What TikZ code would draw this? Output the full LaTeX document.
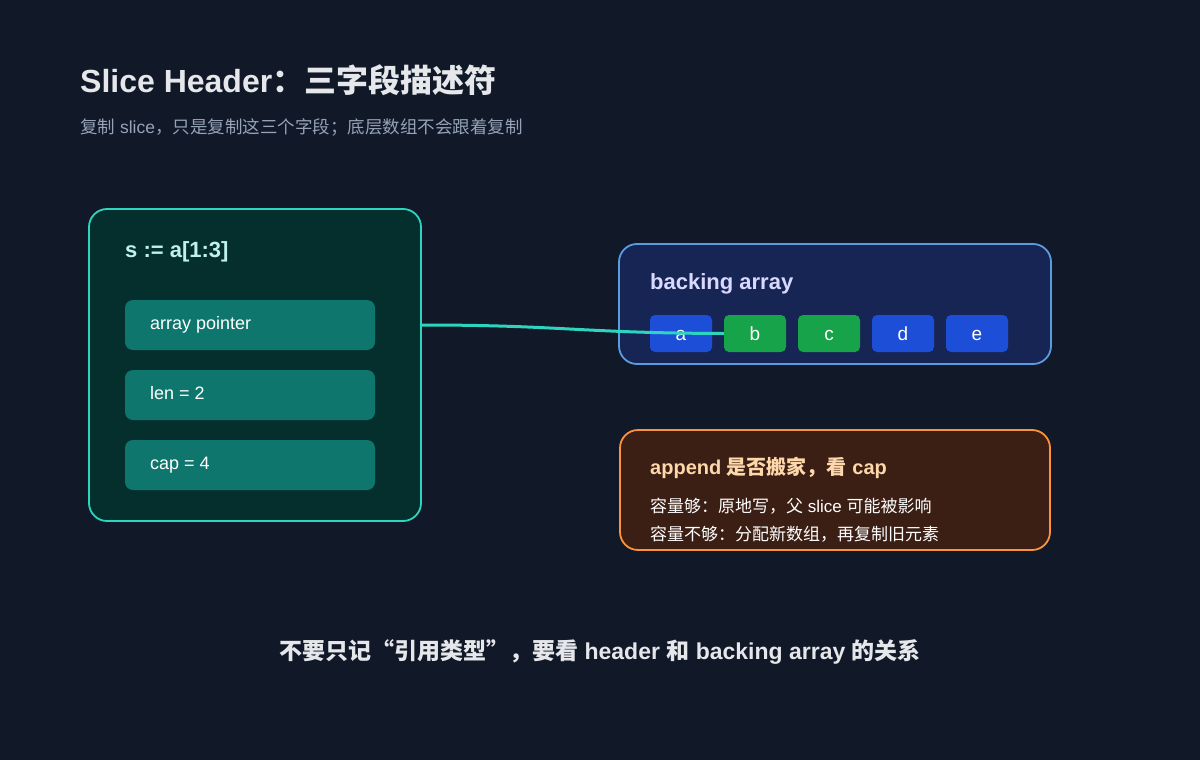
\documentclass[tikz,border=0pt]{standalone}
\usepackage{fontspec}
\setmainfont{Liberation Sans}
\newfontfamily\cjk{Noto Sans CJK SC}
\newcommand{\zh}[1]{{\cjk #1}}
\definecolor{bg}{HTML}{111827}
\definecolor{tealfill}{HTML}{042F2C}
\definecolor{tealline}{HTML}{2DD4BF}
\definecolor{tealbox}{HTML}{0F766E}
\definecolor{navyfill}{HTML}{172554}
\definecolor{navyline}{HTML}{5B9BE0}
\definecolor{cellblue}{HTML}{1D4ED8}
\definecolor{cellgreen}{HTML}{16A34A}
\definecolor{orfill}{HTML}{3B1F14}
\definecolor{orline}{HTML}{FB923C}
\definecolor{ortext}{HTML}{FED7AA}
\definecolor{titlec}{HTML}{E5E7EB}
\definecolor{subc}{HTML}{94A3B8}
\begin{document}
\begin{tikzpicture}[x=1pt,y=-1pt,
  panel/.style={draw,line width=1.8pt,rounded corners=18pt,inner sep=0pt},
  field/.style={fill=tealbox,rounded corners=8pt,minimum width=250pt,minimum height=50pt,inner sep=0pt},
  cell/.style={rounded corners=5pt,minimum width=62pt,minimum height=37pt,text=white,font=\fontsize{19}{20}\selectfont,inner sep=0pt,text height=13pt,text depth=0pt},
  lbl/.style={anchor=west,inner sep=0pt},
  fl/.style={lbl,text=white,font=\fontsize{18}{20}\selectfont,text height=13pt,text depth=4pt}]
\fill[bg] (0,0) rectangle (1200,760);
\useasboundingbox (0,0) rectangle (1200,760);
\node[lbl,text=titlec,font=\fontsize{32}{34}\selectfont\bfseries] (title) at (80,80) {Slice Header\zh{：三字段描述符}};
\node[lbl,text=subc,font=\fontsize{17.5}{19}\selectfont] (sub) at (80,127) {\zh{复制} slice\zh{，只是复制这三个字段；底层数组不会跟着复制}};

\node[panel,draw=tealline,fill=tealfill,minimum width=332pt,minimum height=312pt] (L) at (255,365) {};
\node[lbl,text=tealline!30!white,font=\fontsize{22}{23}\selectfont\bfseries] (st) at (125,252) {s := a[1:3]};
\node[field] (ptr) at (250,325) {};
\node[fl] at (150,325) {array pointer};
\node[field] (len) at (250,395) {};
\node[fl] at (150,395) {len = 2};
\node[field] (cap) at (250,465) {};
\node[fl] at (150,465) {cap = 4};

\node[panel,draw=navyline,fill=navyfill,minimum width=432pt,minimum height=120pt] (B) at (835,304) {};
\node[lbl,text=blue!15!white,font=\fontsize{22}{23}\selectfont\bfseries] (bt) at (650,284) {backing array};
\node[cell,fill=cellblue] (ca) at (681,333.5) {a};
\node[cell,fill=cellgreen] (cb) at (755,333.5) {b};
\node[cell,fill=cellgreen] (cc) at (829,333.5) {c};
\node[cell,fill=cellblue] (cd) at (903,333.5) {d};
\node[cell,fill=cellblue] (ce) at (977,333.5) {e};

\coordinate (start) at (L.east |- ptr);
\draw[tealline,line width=3pt] (start) .. controls (560,325) and (580,333) .. (cb.west);

\node[panel,draw=orline,fill=orfill,minimum width=430pt,minimum height=120pt] (O) at (835,490) {};
\node[lbl,text=ortext,font=\fontsize{20}{21}\selectfont\bfseries] at (650,468) {append \zh{是否搬家，看} cap};
\node[lbl,text=white,font=\fontsize{17}{18}\selectfont] at (650,506) {\zh{容量够：原地写，父} slice \zh{可能被影响}};
\node[lbl,text=white,font=\fontsize{17}{18}\selectfont] at (650,534) {\zh{容量不够：分配新数组，再复制旧元素}};

\node[text=titlec,font=\fontsize{23}{24}\selectfont\bfseries,inner sep=0pt] (foot) at (600,652) {\zh{不要只记“引用类型”，要看} header \zh{和} backing array \zh{的关系}};
\end{tikzpicture}
\end{document}
